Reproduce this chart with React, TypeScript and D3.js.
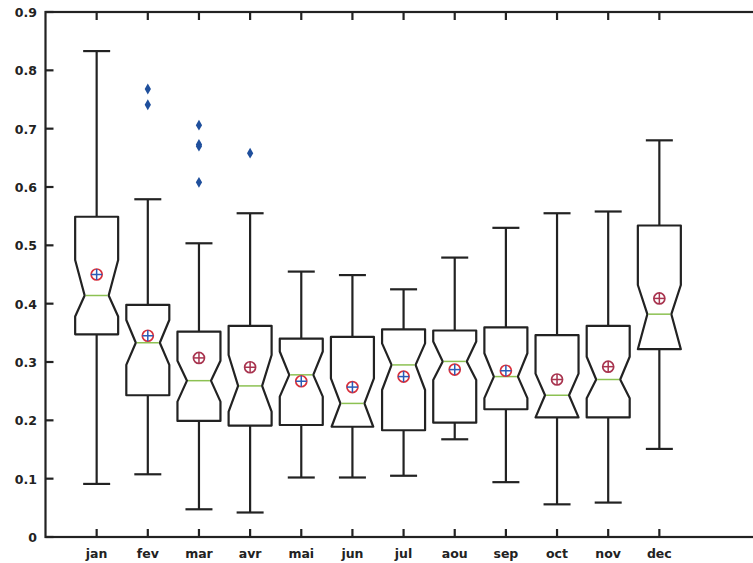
import React, { useEffect, useRef } from 'react';
import * as d3 from 'd3';

// monthly distributions
const months = ['jan', 'fev', 'mar', 'avr', 'mai', 'jun', 'jul', 'aou', 'sep', 'oct', 'nov', 'dec'];
const whiskerHigh = [0.833, 0.579, 0.5035, 0.555, 0.455, 0.449, 0.4246, 0.479, 0.53, 0.555, 0.558, 0.68];
const q3 = [0.549, 0.398, 0.352, 0.362, 0.34, 0.343, 0.356, 0.354, 0.3595, 0.346, 0.362, 0.534];
const medians = [0.414, 0.333, 0.268, 0.259, 0.278, 0.229, 0.295, 0.301, 0.275, 0.243, 0.27, 0.382];
const q1 = [0.3475, 0.243, 0.199, 0.191, 0.192, 0.189, 0.183, 0.196, 0.219, 0.205, 0.205, 0.322];
const whiskerLow = [0.091, 0.1075, 0.0475, 0.042, 0.102, 0.102, 0.105, 0.1675, 0.094, 0.056, 0.059, 0.151];
const means = [0.45, 0.345, 0.307, 0.291, 0.267, 0.257, 0.275, 0.287, 0.285, 0.27, 0.292, 0.409];
const notchHi = [0.475, 0.372, 0.302, 0.312, 0.318, 0.272, 0.332, 0.335, 0.315, 0.28, 0.309, 0.432];
const notchLo = [0.378, 0.295, 0.232, 0.215, 0.2406, 0.186, 0.252, 0.269, 0.238, 0.205, 0.238, 0.322];

const outlierMonth = ['fev', 'fev', 'mar', 'mar', 'mar', 'mar', 'avr'];
const outlierValue = [0.768, 0.741, 0.706, 0.673, 0.67, 0.608, 0.658];

const yTicks = [0, 0.1, 0.2, 0.3, 0.4, 0.5, 0.6, 0.7, 0.8, 0.9];

// months whose mean marker has a blue cross
const blueCross = new Set(['jan', 'fev', 'mai', 'jun', 'jul', 'aou', 'sep']);

function BoxPlot() {
  const svgRef = useRef<SVGSVGElement>(null);

  useEffect(() => {
    const svg = d3.select(svgRef.current);
    svg.selectAll('*').remove();

    const left = 45.5, right = 763, top = 12, bottom = 537;
    const ink = '#222';
    const font = '"DejaVu Sans", sans-serif';

    const x = d3.scaleLinear().domain([0, 13]).range([left, 710.5]);
    const y = d3.scaleLinear().domain([0, 0.9]).range([bottom, top]);
    const xi = (m: string) => x(months.indexOf(m) + 1);

    const hw = 21.5, nw = 12, cap = 13.5, tick = 8, sw = 2.2;

    const g = svg.append('g');

    // whiskers
    months.forEach((m, i) => {
      const cx = xi(m);
      g.append('line')
        .attr('x1', cx).attr('x2', cx)
        .attr('y1', y(q3[i])).attr('y2', y(whiskerHigh[i]))
        .attr('stroke', ink).attr('stroke-width', sw);
      g.append('line')
        .attr('x1', cx).attr('x2', cx)
        .attr('y1', y(q1[i])).attr('y2', y(whiskerLow[i]))
        .attr('stroke', ink).attr('stroke-width', sw);
      [whiskerHigh[i], whiskerLow[i]].forEach(v => {
        g.append('line')
          .attr('x1', cx - cap).attr('x2', cx + cap)
          .attr('y1', y(v)).attr('y2', y(v))
          .attr('stroke', ink).attr('stroke-width', sw);
      });
    });

    // notched boxes
    months.forEach((m, i) => {
      const cx = xi(m);
      const med = medians[i];
      const hi = Math.min(notchHi[i], q3[i]);
      const lo = Math.max(notchLo[i], q1[i]);
      const wHi = nw + (hw - nw) * (hi - med) / (notchHi[i] - med);
      const wLo = nw + (hw - nw) * (med - lo) / (med - notchLo[i]);
      const topW = notchHi[i] > q3[i] ? wHi : hw;
      const botW = notchLo[i] < q1[i] ? wLo : hw;
      const pts: [number, number][] = [
        [cx - topW, y(q3[i])],
        [cx - wHi, y(hi)],
        [cx - nw, y(med)],
        [cx - wLo, y(lo)],
        [cx - botW, y(q1[i])],
        [cx + botW, y(q1[i])],
        [cx + wLo, y(lo)],
        [cx + nw, y(med)],
        [cx + wHi, y(hi)],
        [cx + topW, y(q3[i])],
      ];
      g.append('path')
        .attr('d', d3.line()(pts) + 'Z')
        .attr('fill', 'white')
        .attr('stroke', ink)
        .attr('stroke-width', sw)
        .attr('stroke-linejoin', 'round');
      g.append('line')
        .attr('x1', cx - nw + 1).attr('x2', cx + nw - 1)
        .attr('y1', y(med)).attr('y2', y(med))
        .attr('stroke', '#8cc152').attr('stroke-width', 1.5);
    });

    // mean markers
    months.forEach((m, i) => {
      const cx = xi(m), cy = y(means[i]);
      const blue = blueCross.has(m);
      const ring = blue ? '#d8303c' : '#a8344f';
      g.append('circle')
        .attr('cx', cx).attr('cy', cy).attr('r', 5.5)
        .attr('fill', 'none').attr('stroke', ring).attr('stroke-width', 1.7);
      const c = blue ? '#2a5cb8' : '#a8344f';
      g.append('line').attr('x1', cx - 5.5).attr('x2', cx + 5.5).attr('y1', cy).attr('y2', cy)
        .attr('stroke', c).attr('stroke-width', 1.5);
      g.append('line').attr('x1', cx).attr('x2', cx).attr('y1', cy - 5.5).attr('y2', cy + 5.5)
        .attr('stroke', c).attr('stroke-width', 1.5);
    });

    // outliers
    const diamond = d3.symbol().type(d3.symbolDiamond).size(34);
    outlierValue.forEach((v, i) => {
      g.append('path')
        .attr('d', diamond)
        .attr('transform', `translate(${xi(outlierMonth[i])},${y(v)})`)
        .attr('fill', '#1f4f9c');
    });

    // frame and ticks
    const axis = svg.append('g').attr('stroke', ink).attr('stroke-width', sw);
    axis.append('rect')
      .attr('x', left).attr('y', top)
      .attr('width', right - left).attr('height', bottom - top)
      .attr('fill', 'none');
    months.forEach(m => {
      const cx = xi(m);
      axis.append('line').attr('x1', cx).attr('x2', cx).attr('y1', top).attr('y2', top + tick);
      axis.append('line').attr('x1', cx).attr('x2', cx).attr('y1', bottom).attr('y2', bottom - tick);
    });
    yTicks.forEach(t => {
      axis.append('line').attr('x1', left).attr('x2', left + tick).attr('y1', y(t)).attr('y2', y(t));
      axis.append('line').attr('x1', right).attr('x2', right - tick).attr('y1', y(t)).attr('y2', y(t))
        .attr('stroke', '#ddd').attr('stroke-width', 1);
    });

    svg.append('g').selectAll('text')
      .data(yTicks)
      .enter().append('text')
      .attr('x', 37)
      .attr('y', d => y(d) + 5)
      .attr('text-anchor', 'end')
      .attr('font-family', font)
      .attr('font-weight', 'bold')
      .attr('font-size', 12.5)
      .attr('fill', '#222')
      .text(d => d3.format('~g')(d));

    svg.append('g').selectAll('text')
      .data(months)
      .enter().append('text')
      .attr('x', d => xi(d))
      .attr('y', 558)
      .attr('text-anchor', 'middle')
      .attr('font-family', font)
      .attr('font-weight', 'bold')
      .attr('font-size', 12.5)
      .attr('fill', '#222')
      .text(d => d);
  }, []);

  return (
    <svg ref={svgRef} width={753} height={563}
      style={{ position: 'absolute', left: 0, top: 0, background: 'white' }}></svg>
  );
}

export default function App() {
  return <BoxPlot />;
}
